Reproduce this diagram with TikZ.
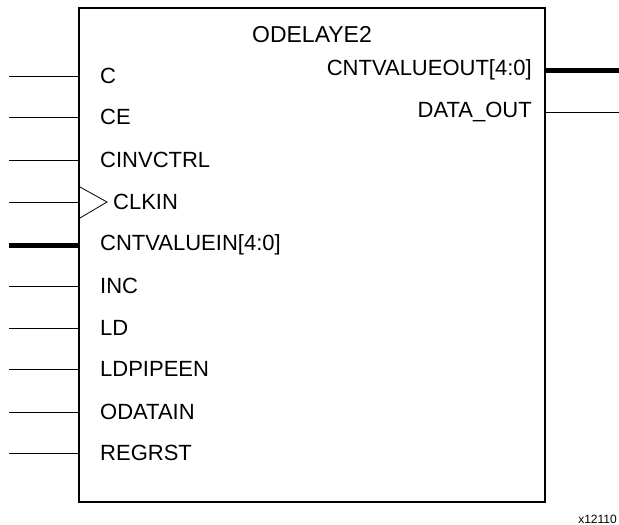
\documentclass[tikz,border=0pt]{standalone}
\usepackage{fontspec}
\setmainfont{Liberation Sans}
\begin{document}
\begin{tikzpicture}[x=1pt,y=-1pt,
  pin/.style={line width=1pt},
  bus/.style={line width=5pt},
  lbl/.style={font=\fontsize{22}{25}\selectfont, inner sep=0pt},
  blk/.style={draw, line width=2.5pt, minimum width=466pt, minimum height=494pt, inner sep=0pt}]
\useasboundingbox (0,0) rectangle (619,525);
\node[blk] (box) at (312,255) {};
\node[font=\fontsize{23}{26}\selectfont, inner sep=0pt] (title) at (312,35) {ODELAYE2};
% left pins
\foreach \nm/\y/\t in {c/76/C, ce/117/CE, cinv/160/CINVCTRL, inc/286/INC, ld/328/LD, ldp/369/LDPIPEEN, odat/412/ODATAIN, rst/453/REGRST}{
  \coordinate (\nm-end) at (9,\y);
  \draw[pin] (\nm-end) -- (\nm-end -| box.west);
  \node[lbl, anchor=west] (\nm-lbl) at (100,\y) {\t};
}
\coordinate (clk-end) at (9,202);
\draw[pin] (clk-end) -- (clk-end -| box.west);
\coordinate (clk-a) at (80,187);
\coordinate (clk-b) at (107,202);
\coordinate (clk-c) at (80,218);
\draw[line width=0.8pt, line join=miter] (clk-a) -- (clk-b) -- (clk-c);
\node[lbl, anchor=west] (clk-lbl) at (113,202) {CLKIN};
\coordinate (cvin-end) at (9,245);
\draw[bus] (cvin-end) -- (cvin-end -| box.west);
\node[lbl, anchor=west] (cvin-lbl) at (100,245) {CNTVALUEIN[4:0]};
% right pins
\coordinate (cvout-end) at (619,70);
\draw[bus] (cvout-end -| box.east) -- (cvout-end);
\node[lbl, anchor=east] (cvout-lbl) at (532,70) {CNTVALUEOUT[4:0]};
\coordinate (dout-end) at (619,112);
\draw[pin] (dout-end -| box.east) -- (dout-end);
\node[lbl, anchor=east] (dout-lbl) at (532,112) {DATA\_OUT};
\node[font=\fontsize{12}{14}\selectfont, anchor=east, inner sep=0pt] (id) at (617,519) {x12110};
\end{tikzpicture}
\end{document}
